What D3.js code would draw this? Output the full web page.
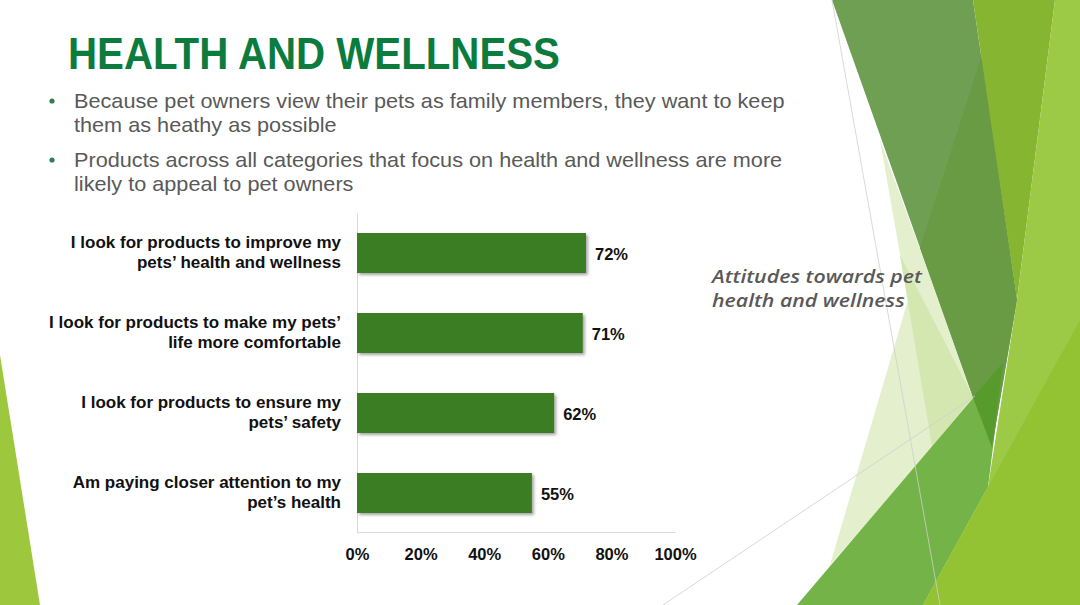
<!DOCTYPE html>
<html>
<head>
<meta charset="utf-8">
<script src="https://cdn.jsdelivr.net/npm/d3@7"></script>
<style>
  html, body { margin: 0; padding: 0; background: #fff; }
  svg { display: block; }
</style>
</head>
<body>
<svg id="slide" width="1080" height="605"></svg>
<script>
// chart data
const categories = [
  'I look for products to improve my\npets’ health and wellness',
  'I look for products to make my pets’\nlife more comfortable',
  'I look for products to ensure my\npets’ safety',
  'Am paying closer attention to my\npet’s health'
]
const values = [0.72, 0.71, 0.62, 0.55]
const xTicks = [0, 0.2, 0.4, 0.6, 0.8, 1]

// slide texts
const titleText = 'HEALTH AND WELLNESS'
const bullets = [
  ['Because pet owners view their pets as family members, they want to keep', 'them as heathy as possible'],
  ['Products across all categories that focus on health and wellness are more', 'likely to appeal to pet owners']
]
const caption = ['Attitudes towards pet', 'health and wellness']

// background facets of the slide theme (decoration, not data)
const facets = [
  { fill: '#e3efcd', pts: [[880, 140], [975, 400], [830, 565], [908, 300]] },
  { fill: '#d4e7b1', pts: [[900, 255], [973, 397], [932, 446]] },
  { fill: '#74b347', pts: [[797, 605], [1003, 363], [993, 447], [988, 487], [923, 605]] },
  { fill: '#6f9f53', pts: [[832, 0], [973, 0], [1017, 300], [992, 447], [973, 397]] },
  { fill: '#699a44', pts: [[982, 55], [1017, 300], [992, 447], [973, 397], [920, 248]] },
  { fill: '#86b532', pts: [[973, 0], [1055, 0], [1017, 300]] },
  { fill: '#9cca47', pts: [[1055, 0], [1080, 0], [1080, 605], [923, 605], [988, 487], [1017, 300]] },
  { fill: '#93c232', pts: [[1080, 320], [1080, 605], [923, 605], [988, 487]] },
  { fill: '#579b2c', pts: [[973, 397], [1003, 363], [992, 447]] },
  { fill: '#9dc83e', pts: [[0, 355], [40, 605], [0, 605]] }
]
const guides = [
  [[832, 0], [940, 605]],
  [[663, 605], [975, 396]]
]

const svg = d3.select('#slide')

svg.append('g')
  .selectAll('polygon')
  .data(facets)
  .join('polygon')
  .attr('points', d => d.pts.map(p => p.join(',')).join(' '))
  .attr('fill', d => d.fill)

svg.append('g')
  .selectAll('line')
  .data(guides)
  .join('line')
  .attr('x1', d => d[0][0]).attr('y1', d => d[0][1])
  .attr('x2', d => d[1][0]).attr('y2', d => d[1][1])
  .attr('stroke', '#cfcfcf')
  .attr('stroke-width', 0.8)

// title, squeezed to the width of the condensed original
const title = svg.append('text')
  .attr('font-family', '"Liberation Sans", Arial, sans-serif')
  .attr('font-size', 45)
  .attr('font-weight', 'bold')
  .attr('fill', '#0b7b3e')
  .text(titleText)
const tw = title.node().getComputedTextLength()
title.attr('transform', `translate(68,69) scale(${492 / tw},1)`)

// bullets
const bulletG = svg.append('g')
const bulletFont = '"Liberation Sans", "DejaVu Sans", sans-serif'
const bulletTop = [108, 167]
const probe = bulletG.append('text')
  .attr('font-family', bulletFont).attr('font-size', 20)
  .text(bullets[0][0])
const bScale = 711 / probe.node().getComputedTextLength()
probe.remove()

bullets.forEach((lines, i) => {
  bulletG.append('circle')
    .attr('cx', 52).attr('cy', bulletTop[i] - 7)
    .attr('r', 2.6)
    .attr('fill', '#2f8050')
  const t = bulletG.append('text')
    .attr('font-family', bulletFont)
    .attr('font-size', 20)
    .attr('fill', '#595959')
    .attr('transform', `translate(74,${bulletTop[i]}) scale(${bScale},1)`)
  lines.forEach((l, j) => {
    t.append('tspan').attr('x', 0).attr('y', j * 24).text(l)
  })
})

// caption on the right
const cap = svg.append('text')
  .attr('font-family', '"Open Sans", "DejaVu Sans", sans-serif')
  .attr('font-style', 'italic')
  .attr('font-weight', 600)
  .attr('font-size', 18)
  .attr('fill', '#595959')
cap.append('tspan').attr('x', 0).attr('y', 0).text(caption[0])
const cw = cap.node().getComputedTextLength()
cap.append('tspan').attr('x', 0).attr('y', 24).text(caption[1])
cap.attr('transform', `translate(712,283) scale(${210 / cw},1)`)

// ----- the bar chart -----
const x = d3.scaleLinear().domain([0, 1]).range([357, 675])
const y = d3.scaleBand()
  .domain(categories)
  .range([213, 533])
  .paddingInner(0.5)
  .paddingOuter(0.25)

const defs = svg.append('defs')
const shadow = defs.append('filter').attr('id', 'shadow')
  .attr('x', '-5%').attr('y', '-20%').attr('width', '115%').attr('height', '150%')
shadow.append('feDropShadow')
  .attr('dx', 2).attr('dy', 2).attr('stdDeviation', 1.5)
  .attr('flood-color', '#000').attr('flood-opacity', 0.35)

const chart = svg.append('g').attr('font-family', '"Liberation Sans", Arial, sans-serif')

chart.append('g')
  .attr('transform', 'translate(0,532)')
  .call(d3.axisBottom(x).tickValues(xTicks).tickFormat(d3.format('.0%')).tickSize(0).tickPadding(16))
  .call(g => g.select('.domain').attr('stroke', '#d9d9d9'))
  .call(g => g.selectAll('text')
    .attr('font-family', '"Liberation Sans", Arial, sans-serif')
    .attr('font-size', 16.5)
    .attr('font-weight', 'bold')
    .attr('fill', '#111'))

chart.append('g')
  .attr('transform', 'translate(357,0)')
  .call(d3.axisLeft(y).tickSize(0).tickFormat(''))
  .call(g => g.select('.domain').attr('stroke', '#d9d9d9'))

chart.append('g')
  .selectAll('rect')
  .data(values)
  .join('rect')
  .attr('x', x(0))
  .attr('y', (d, i) => y(categories[i]))
  .attr('width', d => x(d) - x(0))
  .attr('height', y.bandwidth())
  .attr('fill', '#3b7d24')
  .attr('filter', 'url(#shadow)')

chart.append('g')
  .selectAll('text')
  .data(values)
  .join('text')
  .attr('x', d => x(d) + 9)
  .attr('y', (d, i) => y(categories[i]) + y.bandwidth() / 2 + 7)
  .attr('font-size', 16.5)
  .attr('font-weight', 'bold')
  .attr('fill', '#111')
  .text(d => d3.format('.0%')(d))

const labels = chart.append('g')
  .selectAll('text')
  .data(categories)
  .join('text')
  .attr('text-anchor', 'end')
  .attr('font-size', 17)
  .attr('font-weight', 'bold')
  .attr('fill', '#111')

labels.each(function (d) {
  const c = y(d) + y.bandwidth() / 2
  d.split('\n').forEach((line, j) => {
    d3.select(this).append('tspan')
      .attr('x', 341)
      .attr('y', c - 5 + j * 19.5)
      .text(line)
  })
})
</script>
</body>
</html>
